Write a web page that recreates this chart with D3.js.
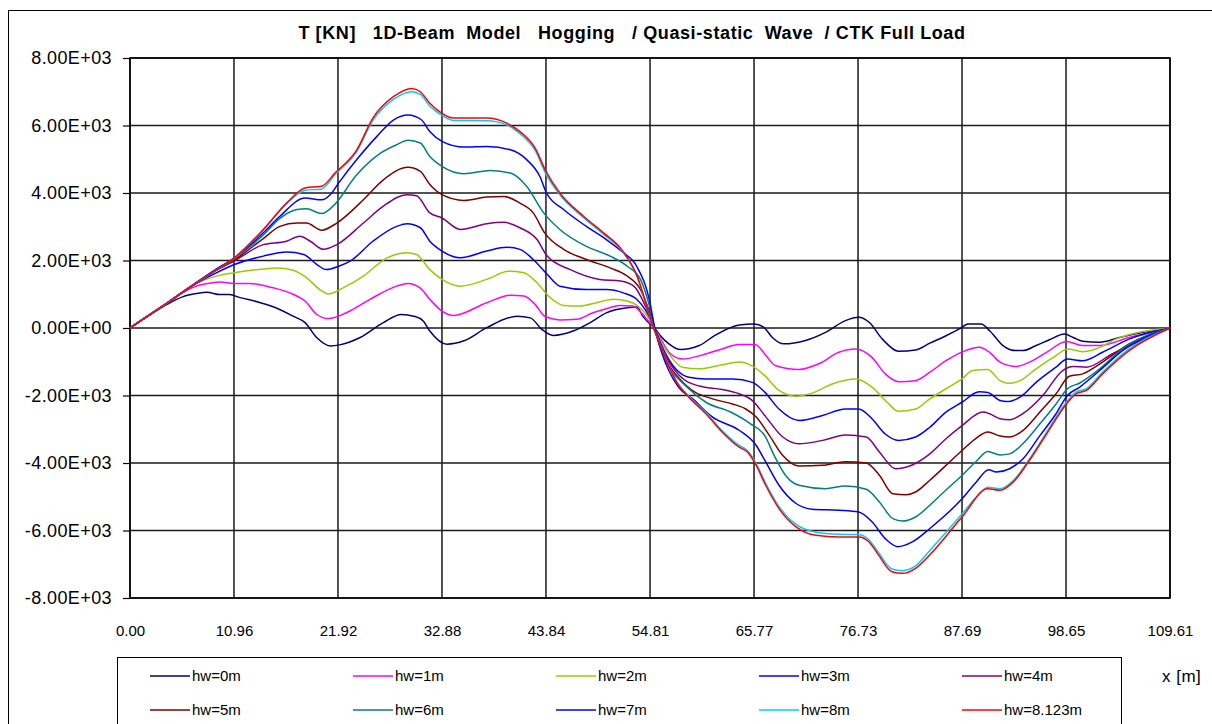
<!DOCTYPE html>
<html>
<head>
<meta charset="utf-8">
<script src="https://cdn.jsdelivr.net/npm/d3@7"></script>
<style>
  html, body { margin: 0; padding: 0; background: #fff; }
  svg { display: block; font-family: "Liberation Sans", Arial, sans-serif; }
</style>
</head>
<body>
<svg id="chart" width="1212" height="724"></svg>
<script>
// Shear force T [kN] along the hull girder (x in m), one curve per wave height hw.
const xTickLabels = ["0.00", "10.96", "21.92", "32.88", "43.84", "54.81", "65.77", "76.73", "87.69", "98.65", "109.61"];
const yTickValues = [-8000, -6000, -4000, -2000, 0, 2000, 4000, 6000, 8000];
const seriesNames = ["hw=0m", "hw=1m", "hw=2m", "hw=3m", "hw=4m", "hw=5m", "hw=6m", "hw=7m", "hw=8m", "hw=8.123m"];
const seriesColors = ["#000080", "#FF00FF", "#99CC00", "#0000FF", "#800080", "#800000", "#008080", "#0000FF", "#00CCFF", "#FF0000"];

const hw0 = [[0,0],[2,370],[3.9,700],[5.6,930],[7.0,1020],[8.1,1060],[9.5,990],[10.5,990],[11.6,900],[13.4,780],[15.1,630],[17.2,350],[18.45,160],[19.7,-290],[21.1,-530],[22.1,-500],[24.2,-290],[26.7,160],[28.6,400],[29.9,350],[30.9,210],[31.6,-90],[33.4,-480],[35.2,-380],[37.6,10],[40.8,350],[42.2,300],[43.4,-40],[44.6,-220],[46.7,-90],[48.5,160],[50.2,450],[52.4,600],[53.4,620],[54.1,330],[54.8,120],[55.3,0],[55.9,-230],[56.8,-470],[58.0,-640],[60.0,-520],[61.7,-210],[64.2,90],[65.77,120],[66.8,20],[67.7,-280],[68.9,-470],[71.2,-370],[73.3,-130],[75.4,220],[76.8,320],[77.9,170],[79.3,-330],[81.0,-690],[82.8,-650],[84.3,-450],[86.0,-230],[87.69,20],[88.3,120],[89.7,120],[90.6,-80],[92.0,-520],[93.4,-670],[94.1,-670],[95.5,-520],[96.9,-350],[98.5,-180],[99.4,-280],[100.4,-390],[102.2,-420],[104.3,-280],[106.8,-130],[109.61,0]];

const hw1 = [[0,0],[2,380],[3.9,730],[5.6,1060],[7.0,1240],[8.5,1330],[9.5,1360],[11.0,1320],[12.6,1320],[15.1,1190],[17.2,1000],[18.45,800],[19.7,400],[20.9,280],[22.8,450],[25.3,850],[28.1,1240],[29.3,1320],[30.6,1180],[31.6,850],[32.88,500],[34.1,370],[37.6,750],[40.1,970],[41.5,950],[42.7,700],[43.7,350],[45.3,240],[47.1,260],[48.8,450],[50.2,570],[51.6,670],[53.0,650],[54.0,420],[54.8,150],[55.3,0],[55.9,-300],[56.8,-720],[58.2,-920],[60.7,-770],[62.4,-620],[64.2,-490],[65.9,-490],[66.9,-770],[68.0,-1110],[70.5,-1230],[72.6,-1060],[74.7,-720],[76.5,-620],[78.2,-870],[79.6,-1360],[81.0,-1590],[82.8,-1560],[84.3,-1310],[86.0,-970],[87.8,-700],[89.5,-570],[90.6,-720],[91.7,-1010],[93.4,-1140],[94.8,-1010],[96.6,-720],[98.7,-400],[100.4,-520],[102.2,-520],[105.3,-280],[109.61,0]];

const hw2 = [[0,0],[2,380],[3.9,730],[5.6,1080],[7.0,1320],[9.0,1530],[11.0,1640],[14.05,1750],[15.5,1780],[17.2,1710],[18.6,1490],[20.0,1140],[20.9,1010],[22.8,1240],[24.6,1540],[27.1,2080],[29.2,2230],[30.2,2180],[31.6,1730],[32.88,1440],[34.8,1240],[37.6,1440],[39.9,1680],[41.5,1640],[42.9,1340],[44.1,950],[45.7,670],[47.4,650],[49.2,750],[51.0,850],[52.4,800],[53.4,680],[54.4,400],[55.3,0],[56.0,-420],[57.2,-920],[58.2,-1160],[60.0,-1210],[62.4,-1090],[64.2,-1010],[65.77,-1160],[66.9,-1410],[68.4,-1850],[70.2,-2020],[71.9,-1930],[74.0,-1660],[76.5,-1510],[78.2,-1750],[79.8,-2200],[81.0,-2470],[82.8,-2400],[84.3,-2100],[86.0,-1800],[87.69,-1510],[88.8,-1260],[90.4,-1230],[91.7,-1560],[92.5,-1640],[93.8,-1560],[95.5,-1210],[97.6,-820],[98.8,-620],[100.4,-700],[101.8,-620],[103.9,-330],[109.61,0]];

const hw3 = [[0,0],[2,380],[3.9,730],[5.6,1060],[7.0,1320],[9.0,1620],[11.0,1880],[14.05,2130],[16.5,2250],[18.3,2180],[19.7,1880],[20.7,1730],[22.0,1830],[23.2,1980],[25.6,2570],[28.1,3010],[29.2,3090],[30.6,2970],[31.6,2570],[32.88,2280],[34.8,2080],[37.6,2280],[39.7,2390],[41.1,2330],[42.5,2030],[43.97,1590],[45.3,1240],[48.1,1140],[50.2,1140],[52.0,1040],[53.4,850],[54.4,500],[55.3,0],[56.0,-500],[57.5,-1210],[58.9,-1460],[60.7,-1510],[63.5,-1510],[65.6,-1610],[66.9,-1900],[68.4,-2400],[70.5,-2740],[73.0,-2590],[75.4,-2400],[76.8,-2400],[78.2,-2690],[79.6,-3140],[81.0,-3330],[82.8,-3230],[84.3,-2940],[86.0,-2490],[87.69,-2200],[89.5,-1890],[90.4,-1910],[91.7,-2150],[92.4,-2180],[93.8,-2050],[95.5,-1610],[97.6,-1160],[98.8,-920],[100.4,-970],[102.5,-720],[105.3,-330],[109.61,0]];

const hw4 = [[0,0],[2,380],[3.9,740],[5.6,1070],[7.0,1330],[9.0,1690],[11.0,1990],[14.05,2470],[16.5,2570],[17.9,2720],[19.0,2570],[20.4,2330],[21.8,2470],[24.6,3110],[26.7,3610],[29.2,3950],[30.2,3920],[31.6,3410],[32.88,3260],[34.8,2920],[37.6,3090],[39.4,3130],[41.1,2970],[42.9,2620],[43.97,2130],[46.4,1730],[49.5,1440],[51.7,1390],[53.1,1240],[54.4,600],[55.3,0],[56.0,-550],[57.9,-1410],[60.0,-1720],[62.4,-1820],[64.2,-1950],[65.6,-2150],[66.9,-2590],[68.8,-3230],[70.5,-3430],[73.0,-3330],[75.4,-3170],[77.6,-3230],[79.0,-3680],[80.7,-4170],[82.5,-4050],[84.3,-3730],[86.0,-3280],[87.69,-2890],[89.9,-2490],[90.6,-2540],[91.7,-2690],[92.7,-2720],[94.1,-2540],[96.2,-2000],[98.3,-1260],[99.4,-1140],[100.8,-1160],[103.5,-770],[109.61,0]];

const hw5 = [[0,0],[2,380],[3.9,740],[5.6,1070],[7.0,1330],[9.0,1700],[11.0,2020],[14.05,2650],[15.8,3010],[17.6,3110],[18.6,3110],[20.2,2900],[21.8,3110],[24.6,3800],[26.7,4390],[29.3,4760],[30.6,4640],[31.6,4250],[32.88,3950],[35.2,3780],[37.6,3880],[39.4,3900],[41.1,3700],[42.5,3410],[43.7,2820],[45.7,2330],[48.1,2030],[50.6,1780],[52.4,1540],[53.8,1140],[54.6,600],[55.3,0],[56.0,-600],[58.6,-1700],[61.4,-2100],[63.5,-2250],[64.9,-2400],[66.0,-2640],[67.4,-3190],[68.8,-3780],[70.5,-4090],[73.0,-4070],[75.4,-3960],[77.6,-4000],[79.0,-4370],[80.4,-4910],[81.8,-4940],[82.8,-4860],[84.3,-4510],[86.0,-4070],[87.69,-3630],[89.2,-3260],[90.4,-3080],[91.7,-3200],[92.7,-3230],[94.1,-3040],[95.9,-2490],[97.6,-1950],[99.0,-1430],[100.4,-1360],[102.5,-1010],[105.3,-470],[109.61,0]];

const hw6 = [[0,0],[2,380],[3.9,740],[5.6,1080],[7.0,1340],[9.0,1720],[11.0,2060],[14.05,2760],[15.8,3250],[17.6,3510],[18.6,3530],[20.2,3390],[21.4,3610],[23.9,4540],[26.4,5180],[28.1,5430],[29.3,5560],[30.6,5480],[31.6,5080],[32.88,4790],[35.2,4570],[38.0,4670],[40.1,4590],[41.8,4200],[43.6,3410],[45.3,2920],[48.1,2420],[50.6,2130],[52.4,1830],[53.8,1440],[54.7,700],[55.3,0],[56.0,-650],[58.9,-1800],[60.7,-2200],[63.3,-2490],[65.4,-2840],[66.9,-3190],[67.9,-3780],[69.1,-4370],[70.5,-4660],[73.3,-4760],[75.4,-4680],[77.6,-4780],[79.0,-5160],[80.4,-5650],[81.4,-5720],[82.8,-5600],[84.3,-5250],[86.0,-4800],[87.69,-4370],[89.2,-3950],[90.4,-3660],[91.7,-3760],[92.7,-3730],[94.1,-3430],[95.9,-2840],[97.6,-2250],[98.8,-1800],[100.1,-1630],[102.2,-1210],[104.6,-620],[109.61,0]];

const hw7 = [[0,0],[2,380],[3.9,740],[5.6,1080],[7.0,1350],[9.0,1730],[11.0,2080],[14.05,2820],[15.8,3310],[18.45,3850],[20.2,3800],[21.1,3950],[22.0,4300],[23.9,4990],[26.0,5670],[27.8,6170],[29.3,6310],[30.7,6170],[31.6,5820],[32.88,5530],[35.2,5360],[37.6,5380],[40.1,5280],[41.8,4990],[43.2,4490],[43.9,4000],[45.7,3510],[48.1,3010],[50.2,2620],[52.0,2230],[53.4,1830],[54.8,750],[55.3,0],[56.0,-700],[57.8,-1750],[59.3,-2100],[61.4,-2640],[64.2,-3030],[66.0,-3480],[67.0,-3970],[68.4,-4660],[70.2,-5200],[71.9,-5370],[74.7,-5400],[76.8,-5450],[78.2,-5740],[79.6,-6240],[80.9,-6480],[82.5,-6330],[84.3,-5940],[87.69,-5060],[89.2,-4560],[90.5,-4200],[91.3,-4270],[92.7,-4170],[94.1,-3880],[95.9,-3190],[97.6,-2540],[98.8,-2000],[100.1,-1750],[102.2,-1260],[104.6,-670],[109.61,0]];

const hw8 = [[0,0],[2,380],[3.9,740],[5.6,1070],[7.0,1330],[9.0,1700],[11.0,2070],[14.05,2900],[16.5,3680],[18.45,4080],[20.2,4120],[21.6,4540],[23.9,5230],[25.6,6150],[27.8,6780],[29.7,7000],[30.6,6920],[31.6,6580],[32.88,6300],[34.1,6150],[37.6,6140],[39.7,6020],[41.1,5760],[42.7,5260],[43.84,4560],[45.3,3950],[47.8,3270],[49.9,2780],[51.8,2300],[53.5,1480],[54.45,650],[55.1,70],[55.9,-510],[56.6,-990],[57.6,-1580],[58.9,-2020],[60.7,-2500],[62.4,-3040],[64.2,-3480],[65.1,-3640],[66.0,-4020],[67.0,-4600],[68.4,-5290],[70.2,-5820],[72.3,-6050],[74.7,-6110],[76.8,-6120],[77.9,-6280],[78.9,-6660],[80.3,-7140],[81.4,-7190],[82.8,-7050],[84.3,-6590],[87.69,-5510],[89.2,-5010],[90.4,-4720],[91.7,-4760],[93.1,-4520],[94.8,-3880],[96.6,-3090],[98.7,-2200],[99.7,-1900],[100.8,-1800],[102.5,-1310],[105.3,-620],[109.61,0]];

const hw8123 = [[0,0],[2,380],[3.9,740],[5.6,1070],[7.0,1330],[9.0,1700],[11.0,2080],[14.05,2920],[16.5,3700],[18.45,4150],[20.2,4200],[21.6,4590],[23.9,5280],[25.6,6220],[27.8,6860],[29.7,7100],[30.6,7000],[31.6,6660],[32.88,6360],[34.1,6220],[37.6,6220],[39.7,6070],[41.1,5820],[42.7,5330],[43.84,4640],[45.3,4000],[47.8,3310],[49.9,2820],[51.8,2330],[53.5,1500],[54.45,660],[55.1,70],[55.9,-520],[56.6,-1010],[57.6,-1600],[58.9,-2050],[60.7,-2540],[62.4,-3080],[64.2,-3530],[65.1,-3680],[66.0,-4070],[67.0,-4660],[68.4,-5350],[70.2,-5890],[72.3,-6140],[74.7,-6190],[76.8,-6190],[77.9,-6340],[78.9,-6730],[80.3,-7220],[81.4,-7270],[82.8,-7120],[84.3,-6720],[87.69,-5600],[90.4,-4760],[91.7,-4810],[93.1,-4560],[94.8,-3920],[96.6,-3140],[98.7,-2250],[99.7,-1950],[100.8,-1850],[102.5,-1360],[105.3,-670],[109.61,0]];

const seriesData = [hw0, hw1, hw2, hw3, hw4, hw5, hw6, hw7, hw8, hw8123];

const svg = d3.select("#chart");
const plot = { left: 130, top: 58, right: 1170, bottom: 598 };

const x = d3.scaleLinear().domain([0, 109.61]).range([plot.left, plot.right]);
const y = d3.scaleLinear().domain([-8000, 8000]).range([plot.bottom, plot.top]);

// Outer chart frame
svg.append("rect").attr("width", 1212).attr("height", 724).attr("fill", "#fff");
svg.append("rect").attr("x", 8.5).attr("y", 10.5).attr("width", 1230).attr("height", 740)
  .attr("fill", "none").attr("stroke", "#000").attr("stroke-width", 1);

// Title
svg.append("text")
  .attr("x", 632).attr("y", 39)
  .attr("text-anchor", "middle")
  .attr("font-weight", "bold").attr("font-size", 18)
  .attr("letter-spacing", 0.6)
  .attr("xml:space", "preserve").style("white-space", "pre")
  .text("T [KN]   1D-Beam  Model   Hogging   / Quasi-static  Wave  / CTK Full Load");

// Grid
const grid = svg.append("g");
grid.selectAll("line.v").data(xTickLabels).join("line")
  .attr("x1", d => x(+d)).attr("x2", d => x(+d))
  .attr("y1", plot.top).attr("y2", plot.bottom)
  .attr("stroke", "#1a1a1a").attr("stroke-width", 1.5);
grid.selectAll("line.h").data(yTickValues).join("line")
  .attr("x1", plot.left).attr("x2", plot.right)
  .attr("y1", d => y(d)).attr("y2", d => y(d))
  .attr("stroke", "#1a1a1a").attr("stroke-width", 1.5);

// Y axis with scientific tick labels
const sci = d => {
  if (d === 0) return "0.00E+00";
  const e = Math.floor(Math.log10(Math.abs(d)));
  const m = d / Math.pow(10, e);
  return m.toFixed(2) + "E" + (e < 0 ? "-" : "+") + String(Math.abs(e)).padStart(2, "0");
};
const yAxis = svg.append("g").attr("transform", `translate(${plot.left},0)`)
  .call(d3.axisLeft(y).tickValues(yTickValues).tickFormat(sci).tickSize(7).tickPadding(11));
yAxis.select(".domain").remove();
yAxis.selectAll("line").attr("stroke", "#000").attr("stroke-width", 1.2);
yAxis.selectAll("text").attr("font-size", 18).attr("letter-spacing", 0.4).attr("fill", "#000")
  .attr("font-family", "'Liberation Sans', Arial, sans-serif");

// X axis labels
const xAxis = svg.append("g").attr("transform", `translate(0,${plot.bottom})`)
  .call(d3.axisBottom(x).tickValues(xTickLabels.map(Number)).tickFormat((d, i) => xTickLabels[i]).tickSize(0).tickPadding(27));
xAxis.select(".domain").remove();
xAxis.selectAll("text").attr("font-size", 15).attr("fill", "#000")
  .attr("font-family", "'Liberation Sans', Arial, sans-serif");

// Plot border
svg.append("rect").attr("x", plot.left).attr("y", plot.top)
  .attr("width", plot.right - plot.left).attr("height", plot.bottom - plot.top)
  .attr("fill", "none").attr("stroke", "#000").attr("stroke-width", 1.5);

// Curves
const line = d3.line().x(d => x(d[0])).y(d => y(d[1])).curve(d3.curveMonotoneX);
svg.append("g").selectAll("path").data(seriesData).join("path")
  .attr("d", line)
  .attr("fill", "none")
  .attr("stroke", (d, i) => seriesColors[i])
  .attr("stroke-width", 1.5)
  .attr("stroke-linejoin", "round");

// Legend
const legend = svg.append("g");
legend.append("rect").attr("x", 117.5).attr("y", 657.5).attr("width", 1004).attr("height", 90)
  .attr("fill", "#fff").attr("stroke", "#000").attr("stroke-width", 1);
const items = legend.selectAll("g.item").data(seriesNames).join("g")
  .attr("transform", (d, i) => `translate(${150 + (i % 5) * 203},${i < 5 ? 676 : 710})`);
items.append("line").attr("x1", 0).attr("x2", 40).attr("y1", 0).attr("y2", 0)
  .attr("stroke", (d, i) => seriesColors[i]).attr("stroke-width", 1.5);
items.append("text").attr("x", 42).attr("y", 0).attr("dy", "0.35em")
  .attr("font-size", 15).text(d => d);

// Axis title
svg.append("text").attr("x", 1162).attr("y", 676).attr("dy", "0.35em")
  .attr("font-size", 17).attr("letter-spacing", 0.5).text("x [m]");
</script>
</body>
</html>
